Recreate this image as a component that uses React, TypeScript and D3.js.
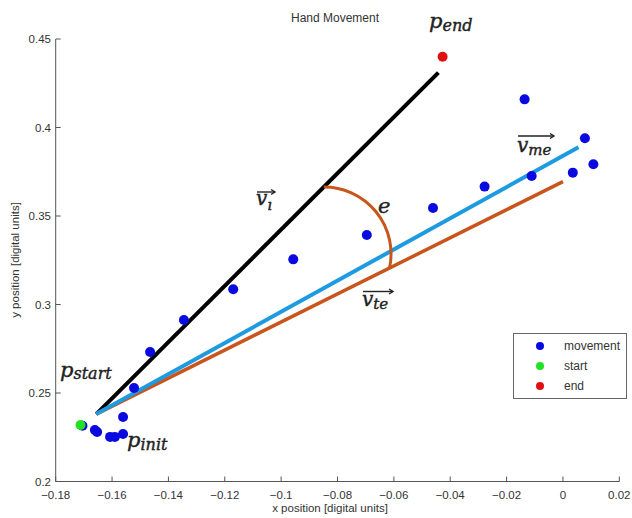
import React from "react";
import * as d3 from "d3";

// ---- data ----
const movementX = [-0.1705, -0.1661, -0.1653, -0.1607, -0.159, -0.1561, -0.1561, -0.1522, -0.1465, -0.1345, -0.117, -0.0957, -0.0696, -0.0461, -0.0278, -0.0136, -0.0111, 0.0035, 0.0078, 0.0108];
const movementY = [0.2315, 0.2291, 0.228, 0.2252, 0.2252, 0.2268, 0.2364, 0.2528, 0.2732, 0.2912, 0.3086, 0.3255, 0.3393, 0.3545, 0.3666, 0.4159, 0.3726, 0.3745, 0.3939, 0.3792];
const startPoint = [-0.1712, 0.2319];
const endPoint = [-0.0427, 0.44];
const origin = [-0.1656, 0.2381];
const lineIEnd = [-0.0442, 0.431];
const lineMEEnd = [0.0055, 0.3888];
const lineTEEnd = [0.0, 0.3694];
const arcCenter = [-0.0848, 0.3285];
const arcRadiusX = 0.0238;
const xTicks = [-0.18, -0.16, -0.14, -0.12, -0.1, -0.08, -0.06, -0.04, -0.02, 0, 0.02];
const yTicks = [0.2, 0.25, 0.3, 0.35, 0.4, 0.45];
const legendItems = ["movement", "start", "end"];

const W = 632, H = 518;
const x = d3.scaleLinear().domain([-0.18, 0.02]).range([55.7, 619.3]);
const y = d3.scaleLinear().domain([0.2, 0.45]).range([481.5, 39]);

const BLUE = "#0a0ae0";
const GREEN = "#22e022";
const RED = "#e01010";
const LBLUE = "#1e9ae0";
const ORANGE = "#c8561c";
const AX = "#555";
const TXT = "#333";
const SANS = "Liberation Sans, Arial, sans-serif";
const MATH = "DejaVu Serif, serif";

function Arrow({ x1, x2, yy }: { x1: number; x2: number; yy: number }) {
  return (
    <g stroke="#222" strokeWidth={1.4} fill="none">
      <line x1={x1} x2={x2} y1={yy} y2={yy} />
      <path d={`M${x2 - 4},${yy - 2.5} L${x2},${yy} L${x2 - 4},${yy + 2.5}`} />
    </g>
  );
}

function MathLabel({ px, py, main, sub, size = 20, subSize = 15, subDx = 0, subDy = 4 }: any) {
  return (
    <text x={px} y={py} fontFamily={MATH} fontStyle="italic" fontSize={size} fill="#222" stroke="#222" strokeWidth={0.4}>
      {main}
      {sub && (
        <tspan dx={subDx} dy={subDy} fontSize={subSize}>
          {sub}
        </tspan>
      )}
    </text>
  );
}

// intersection angle of circle (cx,cy,r) with segment p0->p1 (pixel space)
function hitAngle(cx: number, cy: number, r: number, p0: number[], p1: number[]) {
  const dx = p1[0] - p0[0], dy = p1[1] - p0[1];
  const fx = p0[0] - cx, fy = p0[1] - cy;
  const a = dx * dx + dy * dy;
  const b = 2 * (fx * dx + fy * dy);
  const c = fx * fx + fy * fy - r * r;
  const disc = Math.max(0, b * b - 4 * a * c);
  const t = (-b + Math.sqrt(disc)) / (2 * a);
  const t2 = (-b - Math.sqrt(disc)) / (2 * a);
  const tt = t >= 0 && t <= 1 ? t : t2;
  const px = p0[0] + tt * dx, py = p0[1] + tt * dy;
  return Math.atan2(py - cy, px - cx);
}

export default function App() {
  const ox = x(origin[0]), oy = y(origin[1]);
  const cx = x(arcCenter[0]), cy = y(arcCenter[1]);
  const r = x(arcCenter[0] + arcRadiusX) - x(arcCenter[0]);
  const pO = [ox, oy];
  const pI = [x(lineIEnd[0]), y(lineIEnd[1])];
  const pT = [x(lineTEEnd[0]), y(lineTEEnd[1])];
  // black line: the far intersection (upper) ; orange: the one near center
  const aI = (() => {
    const dx = pI[0] - pO[0], dy = pI[1] - pO[1];
    const fx = pO[0] - cx, fy = pO[1] - cy;
    const a = dx * dx + dy * dy, b = 2 * (fx * dx + fy * dy), c = fx * fx + fy * fy - r * r;
    const disc = Math.max(0, b * b - 4 * a * c);
    const ts = [(-b + Math.sqrt(disc)) / (2 * a), (-b - Math.sqrt(disc)) / (2 * a)];
    const pts = ts.map((t) => [pO[0] + t * dx, pO[1] + t * dy]);
    const top = pts[0][1] < pts[1][1] ? pts[0] : pts[1];
    return Math.atan2(top[1] - cy, top[0] - cx);
  })();
  const aT = (() => {
    const dx = pT[0] - pO[0], dy = pT[1] - pO[1];
    const fx = pO[0] - cx, fy = pO[1] - cy;
    const a = dx * dx + dy * dy, b = 2 * (fx * dx + fy * dy), c = fx * fx + fy * fy - r * r;
    const disc = Math.max(0, b * b - 4 * a * c);
    const ts = [(-b + Math.sqrt(disc)) / (2 * a), (-b - Math.sqrt(disc)) / (2 * a)];
    const pts = ts.map((t) => [pO[0] + t * dx, pO[1] + t * dy]);
    const right = pts[0][0] > pts[1][0] ? pts[0] : pts[1];
    return Math.atan2(right[1] - cy, right[0] - cx);
  })();
  void hitAngle;
  const p = d3.path();
  p.moveTo(cx + r * Math.cos(aI), cy + r * Math.sin(aI));
  p.arc(cx, cy, r, aI, aT, false);

  const pts = movementX.map((v, i) => [v, movementY[i]]);

  return (
    <svg width={W} height={H} style={{ position: "absolute", left: 0, top: 0, background: "#fff" }}>
      <rect width={W} height={H} fill="#fff" />
      {/* title */}
      <text x={335} y={22} textAnchor="middle" fontFamily={SANS} fontSize={12} fill={TXT}>
        Hand Movement
      </text>
      {/* axes */}
      <g stroke={AX} strokeWidth={1} fill="none">
        <line x1={x(-0.18)} x2={x(0.02)} y1={y(0.2)} y2={y(0.2)} />
        <line x1={x(-0.18)} x2={x(-0.18)} y1={y(0.2)} y2={y(0.45)} />
        {xTicks.map((t) => (
          <line key={"xt" + t} x1={x(t)} x2={x(t)} y1={y(0.2)} y2={y(0.2) - 5} />
        ))}
        {yTicks.map((t) => (
          <line key={"yt" + t} x1={x(-0.18)} x2={x(-0.18) + 5} y1={y(t)} y2={y(t)} />
        ))}
      </g>
      {xTicks.map((t) => (
        <text key={"xl" + t} x={x(t)} y={499} textAnchor="middle" fontFamily={SANS} fontSize={11.5} fill={TXT}>
          {d3.format("")(+t.toFixed(2))}
        </text>
      ))}
      {yTicks.map((t) => (
        <text key={"yl" + t} x={51} y={y(t) + 4} textAnchor="end" fontFamily={SANS} fontSize={11.5} fill={TXT}>
          {d3.format("")(+t.toFixed(2))}
        </text>
      ))}
      <text x={330} y={512} textAnchor="middle" fontFamily={SANS} fontSize={11.5} fill={TXT}>
        x position [digital units]
      </text>
      <text transform={`translate(19,${260}) rotate(-90)`} textAnchor="middle" fontFamily={SANS} fontSize={11.5} fill={TXT}>
        y position [digital units]
      </text>

      {/* lines */}
      <line x1={ox} y1={oy} x2={pI[0]} y2={pI[1]} stroke="#000" strokeWidth={4} />
      <line x1={ox} y1={oy} x2={pT[0]} y2={pT[1]} stroke={ORANGE} strokeWidth={3.5} />
      <line x1={ox} y1={oy} x2={x(lineMEEnd[0])} y2={y(lineMEEnd[1])} stroke={LBLUE} strokeWidth={4} />
      <path d={p.toString()} stroke={ORANGE} strokeWidth={3} fill="none" />

      {/* points */}
      {pts.map((d, i) => (
        <circle key={i} cx={x(d[0])} cy={y(d[1])} r={5} fill={BLUE} />
      ))}
      <circle cx={x(startPoint[0])} cy={y(startPoint[1])} r={5} fill={GREEN} />
      <circle cx={x(endPoint[0])} cy={y(endPoint[1])} r={5} fill={RED} />

      {/* annotations */}
      <MathLabel px={429} py={28} main="p" sub="end" size={21} subSize={16} subDy={3} />
      <MathLabel px={60} py={377} main="p" sub="start" size={21} subSize={16} subDy={2} />
      <MathLabel px={127} py={447} main="p" sub="init" size={21} subSize={16} subDy={3} />
      <MathLabel px={256} py={205} main="v" sub="ı" size={20} subSize={15} subDy={5} />
      <Arrow x1={257} x2={275} yy={192} />
      <MathLabel px={362} py={306} main="v" sub="te" size={20} subSize={15} subDy={3} />
      <Arrow x1={363} x2={393} yy={291.5} />
      <MathLabel px={517} py={152} main="v" sub="me" size={20} subSize={15} subDy={3} />
      <Arrow x1={518} x2={554} yy={136} />
      <text x={378} y={213} fontFamily={MATH} fontStyle="italic" fontSize={21} fill="#222" stroke="#222" strokeWidth={0.4}>
        e
      </text>

      {/* legend */}
      <rect x={513.5} y={333.5} width={113} height={65} fill="#fff" stroke="#666" strokeWidth={1} />
      {legendItems.map((name, i) => (
        <g key={name}>
          <circle cx={540} cy={346 + i * 20} r={4} fill={[BLUE, GREEN, RED][i]} />
          <text x={564} y={350 + i * 20} fontFamily={SANS} fontSize={12} fill={TXT}>
            {name}
          </text>
        </g>
      ))}
    </svg>
  );
}
